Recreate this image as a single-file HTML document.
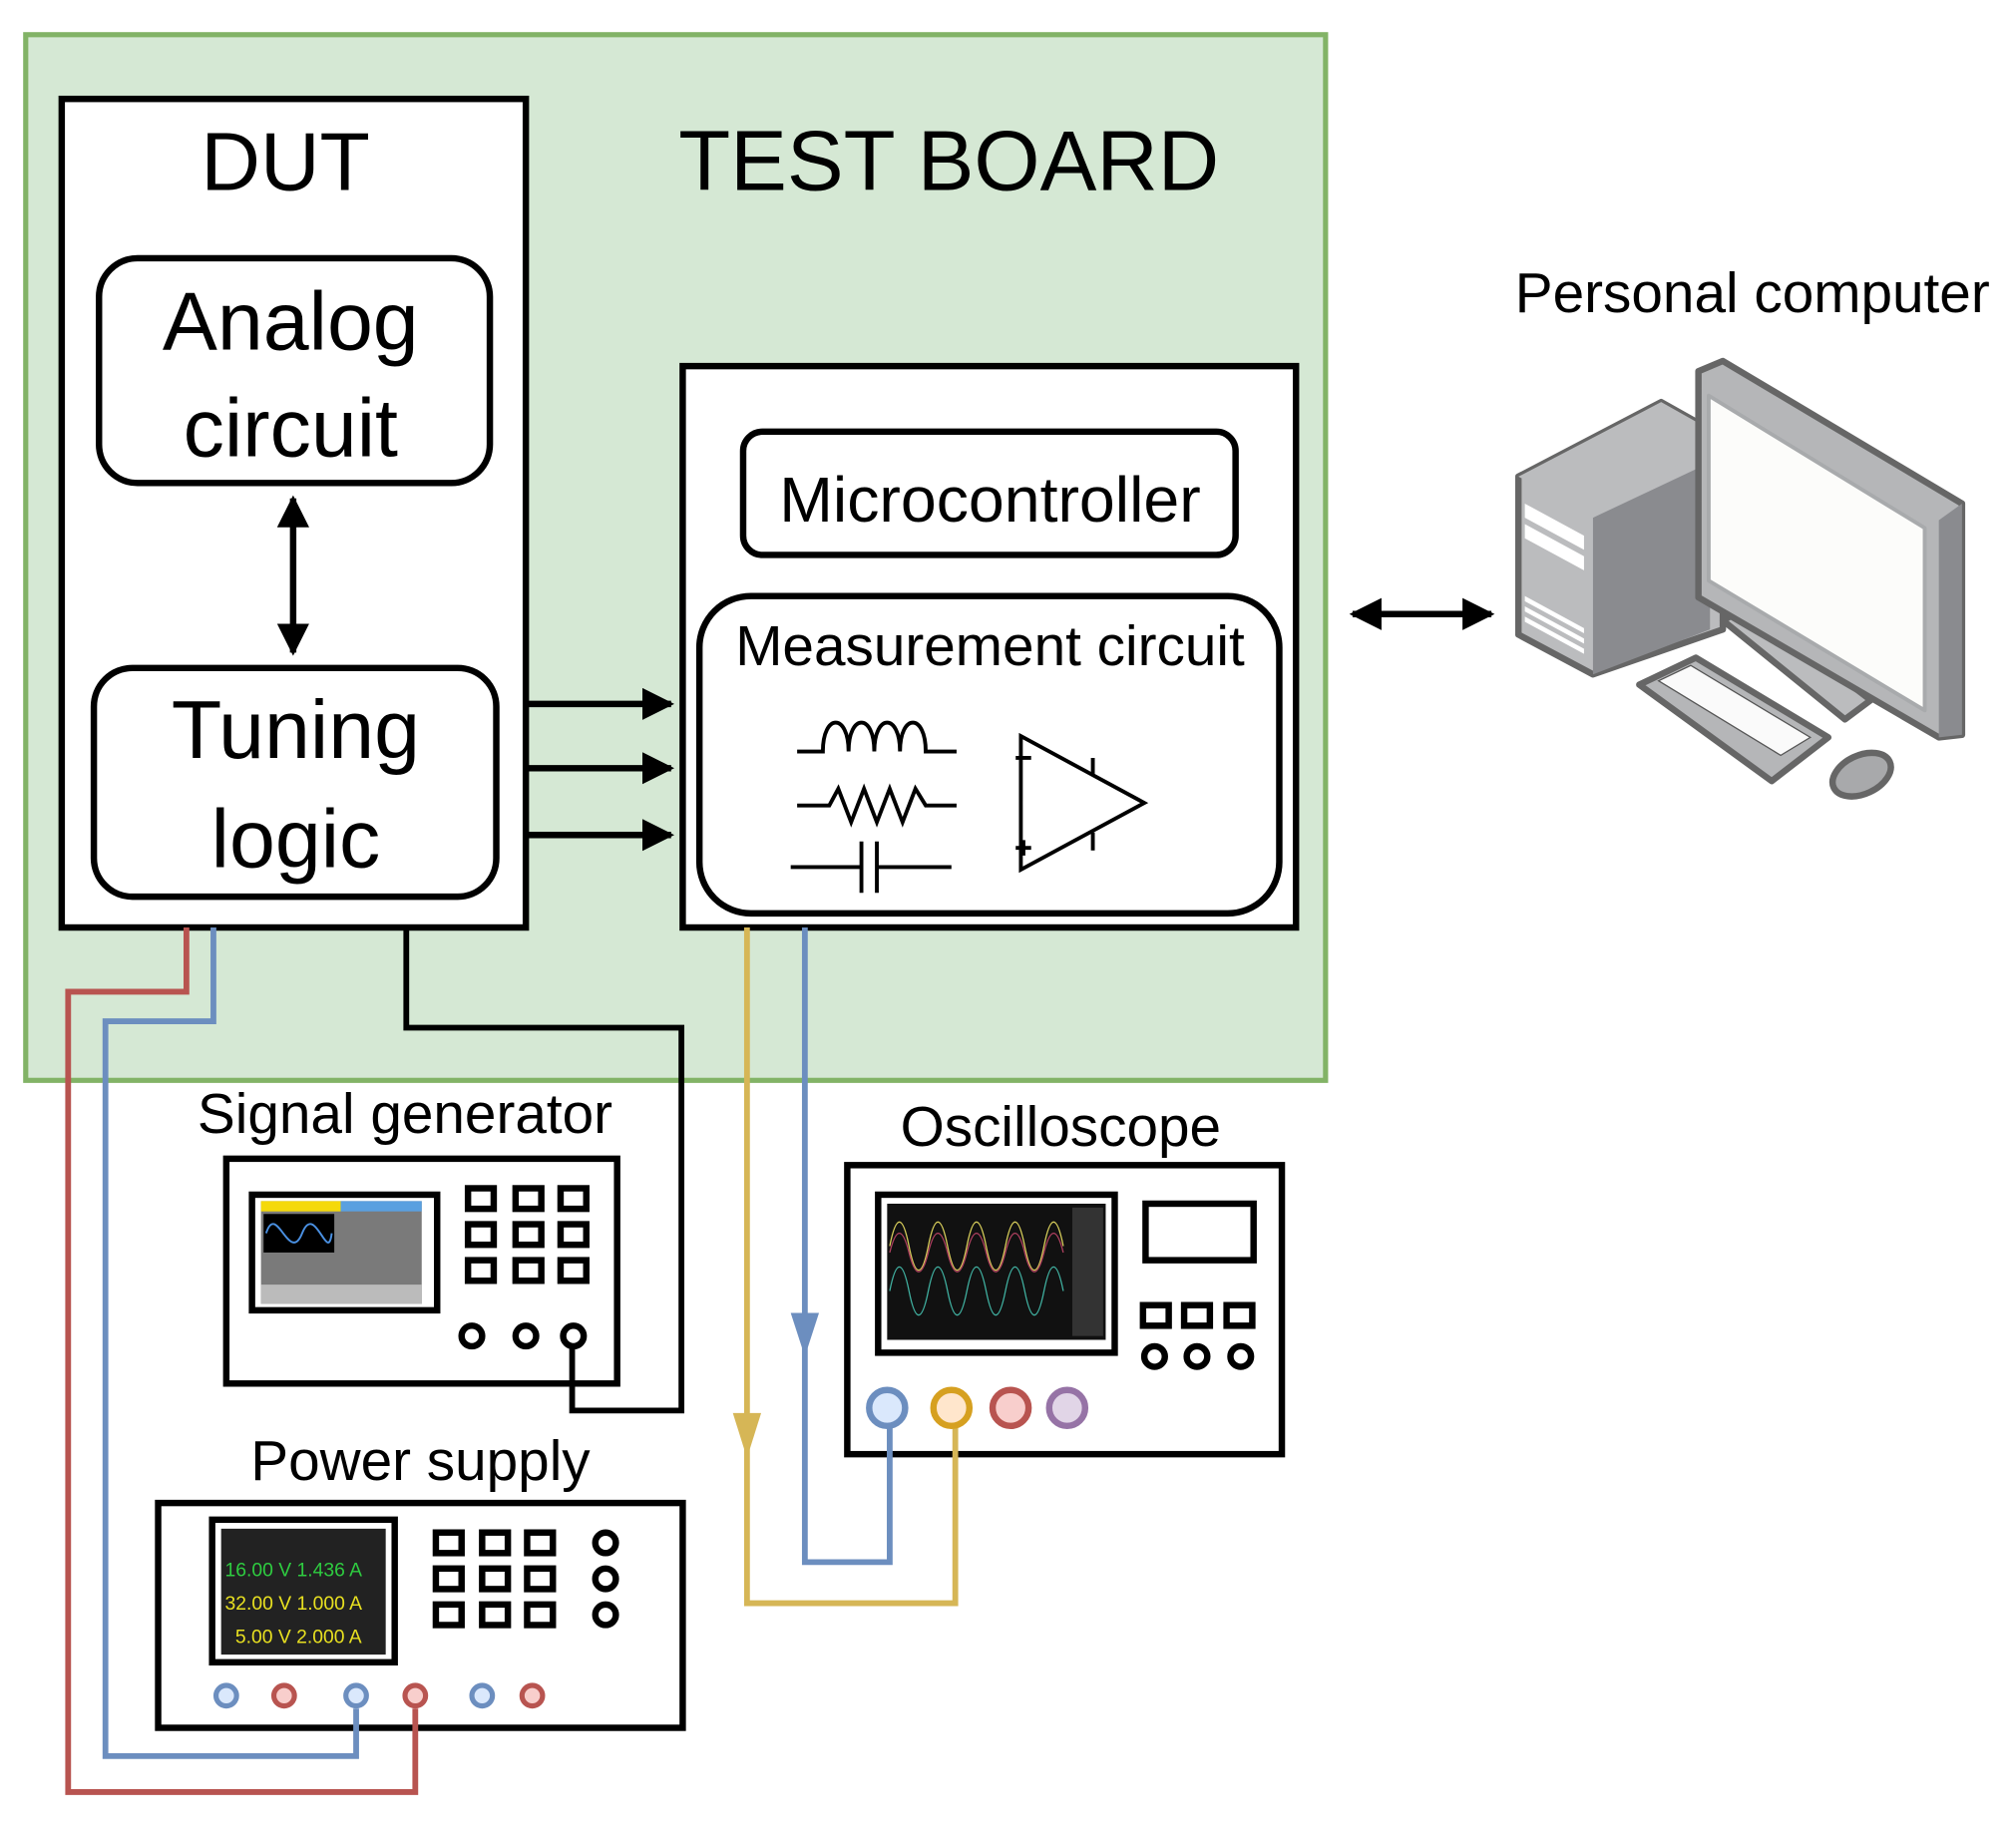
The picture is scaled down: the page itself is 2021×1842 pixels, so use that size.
<!DOCTYPE html>
<html><head><meta charset="utf-8"><style>html,body{margin:0;padding:0;background:#fff}svg{display:block}text{font-family:"Liberation Sans",Arial,sans-serif}</style></head>
<body>
<svg width="2021" height="1842" viewBox="0 0 1568 1430" preserveAspectRatio="none" xmlns="http://www.w3.org/2000/svg">
<defs>
<marker id="ah" viewBox="0 0 10 10" refX="9" refY="5" markerWidth="5" markerHeight="5" orient="auto-start-reverse"><path d="M0,0 L10,5 L0,10 z" fill="#000"/></marker>
</defs>
<rect x="20" y="27" width="1011" height="814" fill="#d5e8d4" stroke="#82b366" stroke-width="4"/>
<text x="738" y="148" font-size="66" text-anchor="middle">TEST BOARD</text>
<rect x="48" y="77" width="361" height="645" fill="#fff" stroke="#000" stroke-width="5"/>
<text x="222" y="148" font-size="64" text-anchor="middle">DUT</text>
<rect x="77" y="201" width="304" height="175" rx="30" fill="#fff" stroke="#000" stroke-width="5"/>
<text x="226" y="272" font-size="64" text-anchor="middle">Analog</text>
<text x="226" y="355" font-size="64" text-anchor="middle">circuit</text>
<line x1="228" y1="388" x2="228" y2="508" stroke="#000" stroke-width="5" marker-start="url(#ah)" marker-end="url(#ah)"/>
<rect x="73" y="520" width="313" height="178" rx="30" fill="#fff" stroke="#000" stroke-width="5"/>
<text x="230" y="590" font-size="64" text-anchor="middle">Tuning</text>
<text x="230" y="675" font-size="64" text-anchor="middle">logic</text>
<g stroke="#000" stroke-width="5">
<line x1="410" y1="548" x2="522" y2="548" marker-end="url(#ah)"/>
<line x1="410" y1="598" x2="522" y2="598" marker-end="url(#ah)"/>
<line x1="410" y1="650" x2="522" y2="650" marker-end="url(#ah)"/>
</g>
<rect x="531" y="285" width="477" height="437" fill="#fff" stroke="#000" stroke-width="5"/>
<rect x="578" y="336" width="383" height="96" rx="15" fill="#fff" stroke="#000" stroke-width="5"/>
<text x="770" y="406" font-size="50" text-anchor="middle">Microcontroller</text>
<rect x="544" y="464" width="451" height="247" rx="40" fill="#fff" stroke="#000" stroke-width="5"/>
<text x="770" y="518" font-size="44" text-anchor="middle">Measurement circuit</text>
<g fill="none" stroke="#000" stroke-width="3">
<path d="M620,585 H640 C640,555 660,555 660,585 C660,555 680,555 680,585 C680,555 700,555 700,585 C700,555 720,555 720,585 H744"/>
<path d="M620,627 H645 L652,614 L662,640 L672,614 L682,640 L692,614 L702,640 L712,614 L720,627 H744"/>
<path d="M615,675 H670 M670,655 V695 M682,655 V695 M682,675 H740"/>
<path d="M794,573 L890,625 L794,677 Z"/>
<path d="M850,590 V603 M850,648 V662 M790,590 H802 M790,660 H802 M796,654 V666"/>
</g>
<line x1="1052" y1="478" x2="1160" y2="478" stroke="#000" stroke-width="5" marker-start="url(#ah)" marker-end="url(#ah)"/>
<text x="1363" y="243" font-size="44" text-anchor="middle">Personal computer</text>
<!-- computer -->
<g stroke="#666" stroke-width="5" stroke-linejoin="round">
<polygon points="1181,371 1292,313 1340,340 1340,490 1239,525 1181,494" fill="#bbbcbe"/>
<polygon points="1239,403 1330,360 1330,490 1239,525" fill="#8a8b8f" stroke="none"/>
<polygon points="1181,371 1292,313 1340,340 1239,403" fill="#bbbcbe" stroke="none"/>
<polygon points="1340,483 1360,472 1455,545 1435,560" fill="#bbbcbe"/>
<polygon points="1321,289 1340,281 1526,392 1526,572 1508,574 1321,465" fill="#b5b6b8"/>
<polygon points="1508,405 1526,392 1526,572 1508,574" fill="#8a8b8f" stroke="none"/>
<polygon points="1329,308 1497,411 1497,553 1329,452" fill="#fcfcfa" stroke="#a8aaac" stroke-width="3"/>
<polygon points="1275,533 1319,512 1422,574 1378,608" fill="#b5b6b8"/>
<ellipse cx="1448" cy="603" rx="24" ry="15" fill="#a8a9ab" transform="rotate(-25 1448 603)"/>
</g>
<g fill="#fff">
<polygon points="1186,392 1232,417 1232,428 1186,403"/>
<polygon points="1186,408 1232,433 1232,444 1186,419"/>
<polygon points="1186,464 1232,489 1232,493 1186,468"/>
<polygon points="1186,472 1232,497 1232,501 1186,476"/>
<polygon points="1186,480 1232,505 1232,509 1186,484"/>
</g>
<polygon points="1290,530 1315,518 1408,574 1385,588" fill="#fafafa" stroke="#555" stroke-width="1"/>
<!-- signal generator -->
<text x="315" y="882" font-size="44" text-anchor="middle">Signal generator</text>
<rect x="176" y="902" width="304" height="175" fill="#fff" stroke="#000" stroke-width="5"/>
<rect x="196" y="930" width="144" height="90" fill="#fff" stroke="#000" stroke-width="5"/>
<rect x="203" y="935" width="125" height="80" fill="#7a7a7a"/>
<rect x="203" y="935" width="62" height="8" fill="#f5d90a"/><rect x="265" y="935" width="63" height="8" fill="#5aa0e0"/>
<rect x="205" y="945" width="55" height="30" fill="#000"/>
<path d="M207,960 C215,935 225,985 235,960 S255,985 258,960" stroke="#4a90e2" fill="none" stroke-width="1.5"/>
<rect x="203" y="1000" width="125" height="15" fill="#bbb"/>
<g fill="none" stroke="#000" stroke-width="5">
<rect x="364" y="925" width="20" height="16"/><rect x="401" y="925" width="20" height="16"/><rect x="436" y="925" width="20" height="16"/>
<rect x="364" y="953" width="20" height="16"/><rect x="401" y="953" width="20" height="16"/><rect x="436" y="953" width="20" height="16"/>
<rect x="364" y="981" width="20" height="16"/><rect x="401" y="981" width="20" height="16"/><rect x="436" y="981" width="20" height="16"/>
</g>
<!-- power supply -->
<text x="327" y="1152" font-size="44" text-anchor="middle">Power supply</text>
<rect x="123" y="1170" width="408" height="175" fill="#fff" stroke="#000" stroke-width="5"/>
<rect x="165" y="1183" width="142" height="111" fill="#fff" stroke="#000" stroke-width="5"/>
<rect x="172" y="1190" width="128" height="98" fill="#222"/>
<g font-size="15" font-family="Liberation Sans Narrow, Liberation Sans, sans-serif">
<text x="175" y="1227" fill="#2ecc40">16.00 V  1.436 A</text>
<text x="175" y="1253" fill="#e8e020">32.00 V  1.000 A</text>
<text x="183" y="1279" fill="#e8e020">5.00 V  2.000 A</text>
</g>
<g fill="none" stroke="#000" stroke-width="5">
<rect x="339" y="1193" width="20" height="16"/><rect x="375" y="1193" width="20" height="16"/><rect x="410" y="1193" width="20" height="16"/>
<rect x="339" y="1221" width="20" height="16"/><rect x="375" y="1221" width="20" height="16"/><rect x="410" y="1221" width="20" height="16"/>
<rect x="339" y="1249" width="20" height="16"/><rect x="375" y="1249" width="20" height="16"/><rect x="410" y="1249" width="20" height="16"/>
<circle cx="471" cy="1201" r="8"/><circle cx="471" cy="1229" r="8"/><circle cx="471" cy="1257" r="8"/>
</g>
<!-- oscilloscope -->
<text x="825" y="892" font-size="44" text-anchor="middle">Oscilloscope</text>
<rect x="659" y="907" width="338" height="225" fill="#fff" stroke="#000" stroke-width="5"/>
<rect x="683" y="930" width="184" height="123" fill="#fff" stroke="#000" stroke-width="5"/>
<rect x="690" y="937" width="170" height="106" fill="#111"/>
<path d="M692,970 c5,-25 10,-25 15,0 s10,25 15,0 s10,-25 15,0 s10,25 15,0 s10,-25 15,0 s10,25 15,0 s10,-25 15,0 s10,25 15,0 s10,-25 15,0" stroke="#d6cc5a" fill="none" stroke-width="1"/>
<path d="M692,975 c5,-20 10,-20 15,0 s10,20 15,0 s10,-20 15,0 s10,20 15,0 s10,-20 15,0 s10,20 15,0 s10,-20 15,0 s10,20 15,0 s10,-20 15,0" stroke="#b04060" fill="none" stroke-width="1"/>
<path d="M692,1005 c5,-25 10,-25 15,0 s10,25 15,0 s10,-25 15,0 s10,25 15,0 s10,-25 15,0 s10,25 15,0 s10,-25 15,0 s10,25 15,0 s10,-25 15,0" stroke="#40b0a0" fill="none" stroke-width="1"/>
<rect x="834" y="940" width="24" height="100" fill="#333"/>
<g fill="none" stroke="#000" stroke-width="5">
<rect x="891" y="937" width="84" height="44"/>
<rect x="889" y="1016" width="20" height="16"/><rect x="921" y="1016" width="20" height="16"/><rect x="954" y="1016" width="20" height="16"/>
<circle cx="898" cy="1056" r="8"/><circle cx="931" cy="1056" r="8"/><circle cx="965" cy="1056" r="8"/>
</g>
<!-- wires -->
<g fill="none" stroke-width="4.5">
<polyline points="145,722 145,772 53,772 53,1395 323,1395 323,1330" stroke="#b85450"/>
<polyline points="166,722 166,795 82,795 82,1367 277,1367 277,1330" stroke="#6c8ebf"/>
<polyline points="316,722 316,800 530,800 530,1098 445,1098 445,1048" stroke="#000"/>
<polyline points="581,722 581,1248 743,1248 743,1108" stroke="#d6b656"/>
<polyline points="626,722 626,1216 692,1216 692,1108" stroke="#6c8ebf"/>
</g>
<polygon points="570,1100 592,1100 581,1135" fill="#d6b656"/>
<polygon points="615,1022 637,1022 626,1056" fill="#6c8ebf"/>
<g fill="#fff" stroke="#000" stroke-width="5">
<circle cx="367" cy="1040" r="8"/><circle cx="409" cy="1040" r="8"/><circle cx="446" cy="1040" r="8"/>
</g>
<g stroke-width="4">
<circle cx="176" cy="1320" r="8" fill="#dae8fc" stroke="#6c8ebf"/><circle cx="221" cy="1320" r="8" fill="#f8cecc" stroke="#b85450"/>
<circle cx="277" cy="1320" r="8" fill="#dae8fc" stroke="#6c8ebf"/><circle cx="323" cy="1320" r="8" fill="#f8cecc" stroke="#b85450"/>
<circle cx="375" cy="1320" r="8" fill="#dae8fc" stroke="#6c8ebf"/><circle cx="414" cy="1320" r="8" fill="#f8cecc" stroke="#b85450"/>
</g>
<g stroke-width="5">
<circle cx="690" cy="1096" r="14" fill="#dae8fc" stroke="#6c8ebf"/>
<circle cx="740" cy="1096" r="14" fill="#ffe6cc" stroke="#d6a020"/>
<circle cx="786" cy="1096" r="14" fill="#f8cecc" stroke="#b85450"/>
<circle cx="830" cy="1096" r="14" fill="#e1d5e7" stroke="#9673a6"/>
</g>
</svg>
</body></html>
